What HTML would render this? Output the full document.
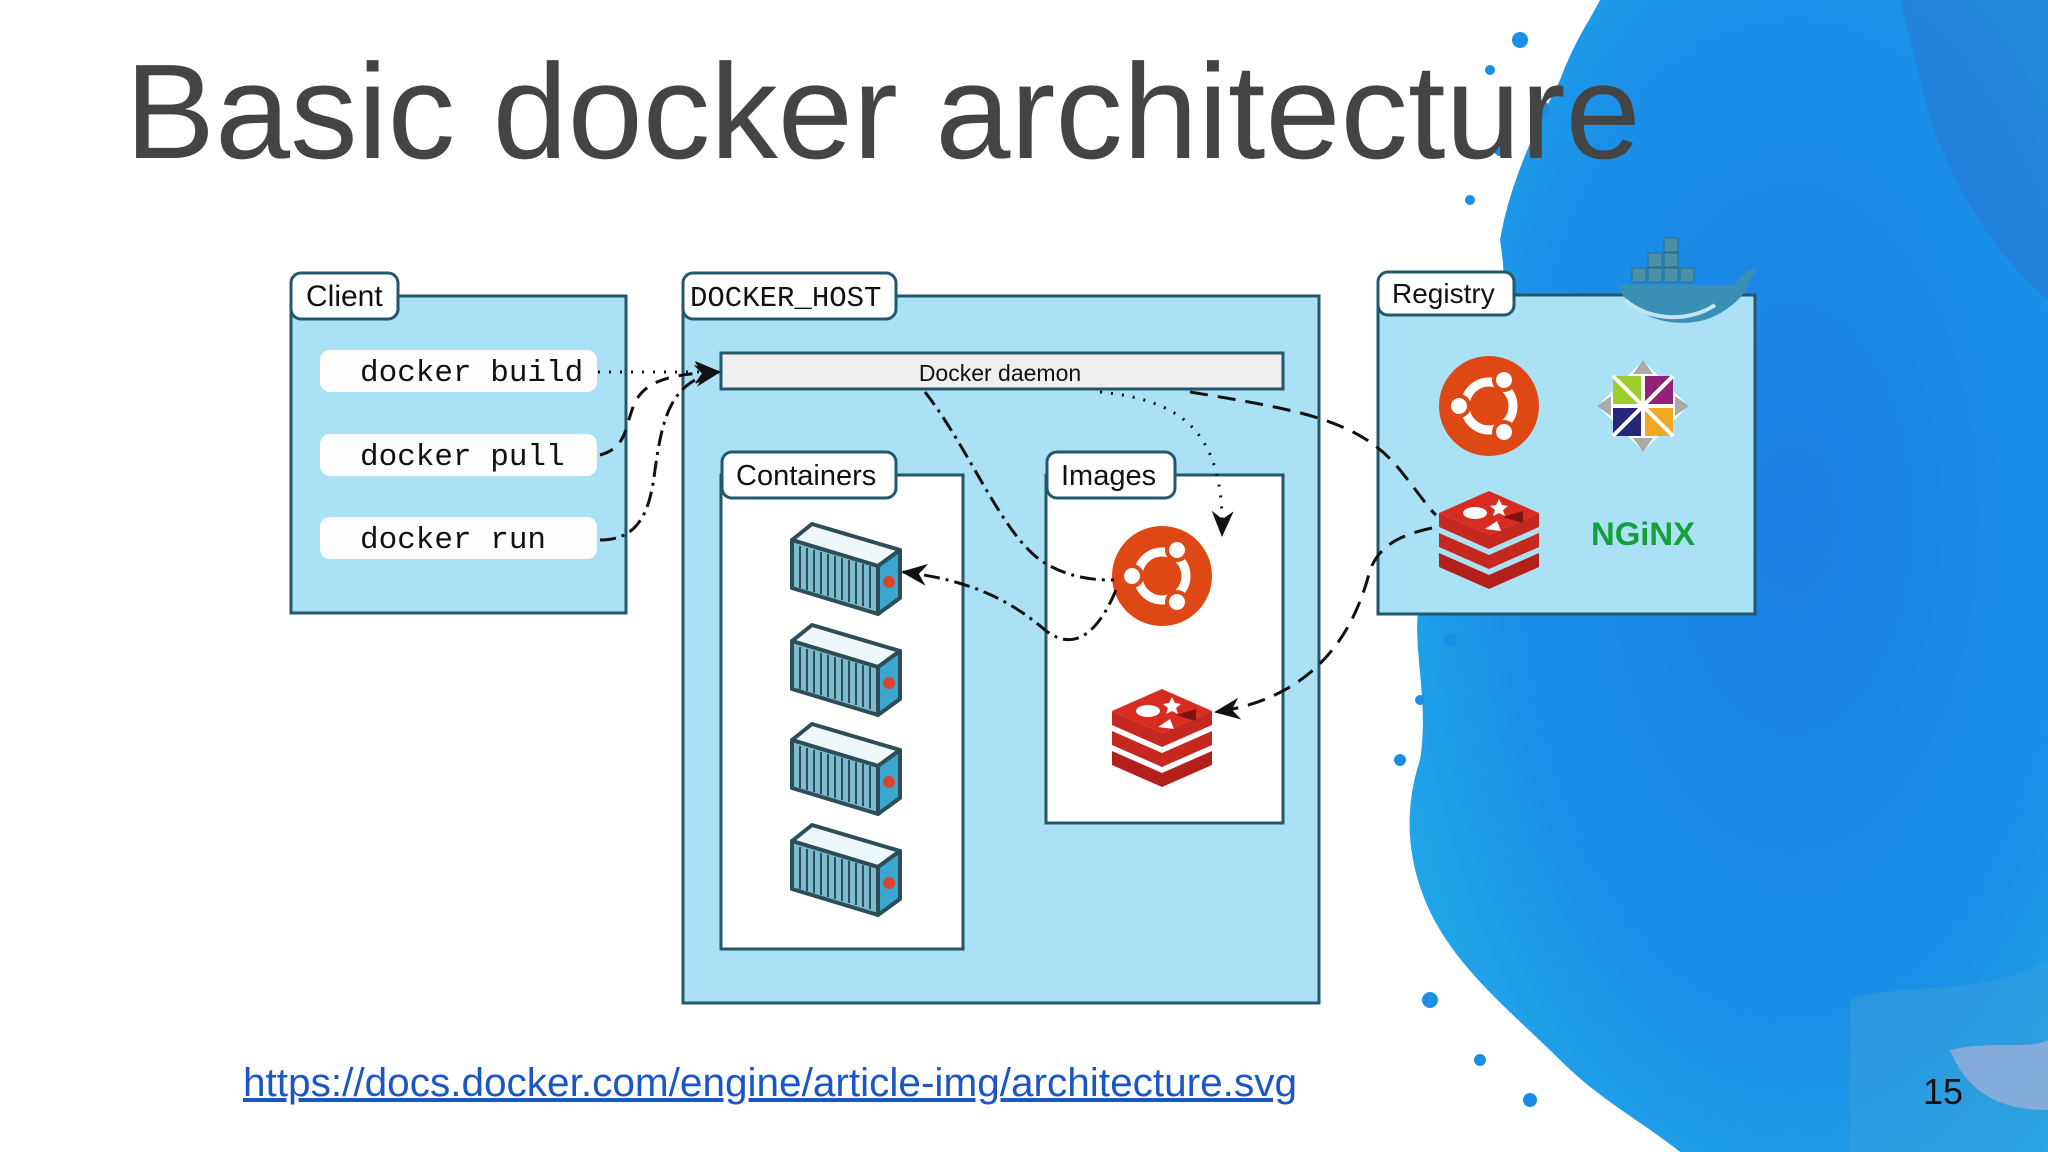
<!DOCTYPE html>
<html><head><meta charset="utf-8"><style>
html,body{margin:0;padding:0;background:#fff;}
body{width:2048px;height:1152px;overflow:hidden;position:relative;font-family:"Liberation Sans",sans-serif;}
svg{position:absolute;left:0;top:0;}
</style></head><body>
<svg width="2048" height="1152" viewBox="0 0 2048 1152" xmlns="http://www.w3.org/2000/svg">
<defs>
<radialGradient id="sp" cx="0.6" cy="0.45" r="0.7">
<stop offset="0" stop-color="#1a7fe2"/><stop offset="0.6" stop-color="#1a8ee8"/><stop offset="1" stop-color="#22a8e8"/>
</radialGradient>
<marker id="ah" markerWidth="26" markerHeight="22" refX="24" refY="11" orient="auto" markerUnits="userSpaceOnUse">
<path d="M0,0 L26,11 L0,22 L8,11 Z" fill="#111"/></marker>
<g id="cont">
<polygon points="2,18 22,2 110,28 88,44" fill="#eef7fa" stroke="#2d4d57" stroke-width="4" stroke-linejoin="round"/>
<polygon points="2,18 88,44 88,92 2,66" fill="#7dbccf" stroke="#2d4d57" stroke-width="4" stroke-linejoin="round"/>
<polygon points="88,44 110,28 110,76 88,92" fill="#3ba6cf" stroke="#2d4d57" stroke-width="4" stroke-linejoin="round"/>
<g stroke="#2d4d57" stroke-width="2">
<line x1="10" y1="24" x2="10" y2="66"/><line x1="17" y1="26" x2="17" y2="68"/><line x1="24" y1="28" x2="24" y2="70"/><line x1="31" y1="30" x2="31" y2="72"/><line x1="38" y1="32" x2="38" y2="74"/><line x1="45" y1="34" x2="45" y2="76"/><line x1="52" y1="36" x2="52" y2="78"/><line x1="59" y1="38" x2="59" y2="80"/><line x1="66" y1="40" x2="66" y2="82"/><line x1="73" y1="42" x2="73" y2="84"/><line x1="80" y1="44" x2="80" y2="86"/>
</g>
<circle cx="99" cy="60" r="6" fill="#d9432b"/>
</g>
<g id="ubu">
<circle r="50" fill="#dd4814"/>
<circle r="24" fill="none" stroke="#fff" stroke-width="9"/>
<circle cx="-30" cy="0" r="10" fill="#fff" stroke="#dd4814" stroke-width="4"/>
<circle cx="15" cy="-26" r="10" fill="#fff" stroke="#dd4814" stroke-width="4"/>
<circle cx="15" cy="26" r="10" fill="#fff" stroke="#dd4814" stroke-width="4"/>
</g>
<g id="redis">
<path d="M-50,20 L0,42 L50,20 L50,34 L0,56 L-50,34 Z" fill="#b3201b"/>
<path d="M-50,0 L0,22 L50,0 L50,14 L0,36 L-50,14 Z" fill="#c4281f"/>
<path d="M-50,-20 L0,2 L50,-20 L50,-6 L0,16 L-50,-6 Z" fill="#c4281f"/>
<path d="M-50,-20 L0,-42 L50,-20 L0,2 Z" fill="#d82c20"/>
<ellipse cx="-14" cy="-20" rx="12" ry="6" fill="#fff"/>
<path d="M10,-34 l3,6 6,1 -5,4 2,6 -6,-3 -6,3 2,-6 -5,-4 6,-1z" fill="#fff"/>
<path d="M14,-16 L34,-22 L34,-10 Z" fill="#7a1512"/>
<path d="M-4,-4 L8,-12 L12,-2 Z" fill="#fff"/>
</g>
</defs>

<!-- splash -->
<path d="M1600,0 L2048,0 L2048,1152 L1680,1152 C1640,1120 1600,1100 1560,1060 C1520,1020 1470,980 1440,930 C1410,880 1400,820 1420,760 C1430,700 1410,640 1420,600 C1430,540 1450,480 1480,420 C1500,360 1510,300 1500,240 C1510,180 1540,120 1560,80 C1575,40 1590,20 1600,0 Z" fill="url(#sp)"/>
<path d="M1900,0 L2048,0 L2048,300 C2000,260 1960,200 1930,120 Z" fill="#2a6fc9" opacity="0.4"/>
<path d="M1850,1000 C1900,980 1980,1000 2048,960 L2048,1152 L1850,1152 Z" fill="#3aa0d8" opacity="0.5"/>
<path d="M1950,1050 C1990,1040 2030,1050 2048,1040 L2048,1110 C2010,1110 1970,1100 1950,1050Z" fill="#d9b8d6" opacity="0.5"/>
<g fill="#1b8fe6">
<circle cx="1520" cy="40" r="8"/><circle cx="1490" cy="70" r="5"/><circle cx="1540" cy="110" r="10"/><circle cx="1500" cy="150" r="6"/><circle cx="1470" cy="200" r="5"/><circle cx="1450" cy="640" r="7"/><circle cx="1420" cy="700" r="5"/><circle cx="1400" cy="760" r="6"/><circle cx="1430" cy="1000" r="8"/><circle cx="1480" cy="1060" r="6"/><circle cx="1530" cy="1100" r="7"/>
</g>

<!-- title -->
<text x="125" y="158" font-family="'Liberation Sans',sans-serif" font-size="135" fill="#444">Basic docker architecture</text>

<!-- Client -->
<rect x="291" y="296" width="335" height="317" fill="#abe1f5" stroke="#23586a" stroke-width="3"/>
<rect x="291" y="273" width="107" height="46" rx="10" fill="#fff" stroke="#23586a" stroke-width="3"/>
<text x="306" y="306" font-size="30" fill="#111">Client</text>
<g font-family="'Liberation Mono',monospace" font-size="31" fill="#111">
<rect x="320" y="350" width="277" height="42" rx="10" fill="#fdfdfd"/><text x="360" y="381">docker build</text>
<rect x="320" y="434" width="277" height="42" rx="10" fill="#fdfdfd"/><text x="360" y="465">docker pull</text>
<rect x="320" y="517" width="277" height="42" rx="10" fill="#fdfdfd"/><text x="360" y="548">docker run</text>
</g>

<!-- Docker host -->
<rect x="683" y="296" width="636" height="707" fill="#abe1f5" stroke="#23586a" stroke-width="3"/>
<rect x="683" y="273" width="213" height="46" rx="10" fill="#fff" stroke="#23586a" stroke-width="3"/>
<text x="690" y="306" font-family="'Liberation Mono',monospace" font-size="29" fill="#111">DOCKER_HOST</text>
<rect x="721" y="353" width="562" height="36" fill="#efefef" stroke="#23586a" stroke-width="3"/>
<text x="1000" y="381" font-size="23" fill="#111" text-anchor="middle">Docker daemon</text>

<rect x="721" y="475" width="242" height="474" fill="#fff" stroke="#23586a" stroke-width="3"/>
<rect x="722" y="452" width="174" height="46" rx="10" fill="#fff" stroke="#23586a" stroke-width="3"/>
<text x="736" y="485" font-size="29" fill="#111">Containers</text>
<rect x="1046" y="475" width="237" height="348" fill="#fff" stroke="#23586a" stroke-width="3"/>
<rect x="1047" y="452" width="128" height="46" rx="10" fill="#fff" stroke="#23586a" stroke-width="3"/>
<text x="1061" y="485" font-size="29" fill="#111">Images</text>

<use href="#cont" x="790" y="522"/>
<use href="#cont" x="790" y="623"/>
<use href="#cont" x="790" y="722"/>
<use href="#cont" x="790" y="823"/>
<use href="#ubu" x="1162" y="576"/>
<use href="#redis" x="1162" y="731"/>

<!-- Registry -->
<rect x="1378" y="295" width="377" height="319" fill="#abe1f5" stroke="#23586a" stroke-width="3"/>
<rect x="1378" y="272" width="136" height="43" rx="10" fill="#fff" stroke="#23586a" stroke-width="3"/>
<text x="1392" y="303" font-size="28" fill="#111">Registry</text>
<g>
<path d="M1618,285 C1630,320 1680,330 1710,318 C1730,310 1745,295 1748,285 Z" fill="#3a8fb5"/>
<path d="M1625,300 C1650,322 1690,322 1715,305" fill="none" stroke="#bfe5f2" stroke-width="4"/>
<path d="M1735,285 C1742,272 1750,268 1758,270 C1752,276 1748,282 1746,286 Z" fill="#3a8fb5"/>
<g fill="#4b8fa8" stroke="#2a6f8a" stroke-width="1">
<rect x="1632" y="268" width="14" height="14"/><rect x="1648" y="268" width="14" height="14"/><rect x="1664" y="268" width="14" height="14"/><rect x="1680" y="268" width="14" height="14"/><rect x="1648" y="253" width="14" height="14"/><rect x="1664" y="253" width="14" height="14"/><rect x="1664" y="238" width="14" height="14"/>
</g>
</g>
<use href="#ubu" x="1489" y="406"/>
<use href="#redis" x="1489" y="533"/>
<g transform="translate(1643,406)">
<rect x="-32" y="-32" width="64" height="64" fill="#fff" transform="rotate(45)"/>
<rect x="-30" y="-30" width="28" height="28" fill="#9ccd2a"/>
<rect x="2" y="-30" width="28" height="28" fill="#932279"/>
<rect x="-30" y="2" width="28" height="28" fill="#262577"/>
<rect x="2" y="2" width="28" height="28" fill="#efa724"/>
<path d="M0,-46 L10,-32 L-10,-32Z M46,0 L32,10 L32,-10Z M0,46 L10,32 L-10,32Z M-46,0 L-32,10 L-32,-10Z" fill="#aaa"/>
<path d="M-30,-30 L30,30 M30,-30 L-30,30" stroke="#fff" stroke-width="4"/>
</g>
<text x="1643" y="545" font-size="32" font-weight="bold" fill="#139f3a" text-anchor="middle" font-family="'Liberation Sans',sans-serif" textLength="104" lengthAdjust="spacingAndGlyphs">NGiNX</text>

<!-- connectors -->
<g fill="none" stroke="#111" stroke-width="3">
<path d="M598,372 L719,372" stroke-dasharray="2,9" marker-end="url(#ah)"/>
<path d="M600,455 C625,448 625,430 632,410 C640,385 660,374 719,372" stroke-dasharray="14,10" marker-end="url(#ah)"/>
<path d="M600,540 C640,540 650,510 655,470 C662,420 670,380 719,372" stroke-dasharray="16,6,3,6" marker-end="url(#ah)"/>
<path d="M1100,392 C1180,400 1225,430 1222,535" stroke-dasharray="2,9" marker-end="url(#ah)"/>
<path d="M925,392 C970,450 1000,530 1040,560 C1070,580 1100,580 1114,580" stroke-dasharray="16,6,3,6"/>
<path d="M1116,590 C1095,640 1070,650 1045,630 C1010,600 970,580 903,572" stroke-dasharray="16,6,3,6" marker-end="url(#ah)"/>
<path d="M1190,392 C1300,410 1360,420 1400,470 C1420,495 1430,510 1436,515" stroke-dasharray="18,10"/>
<path d="M1432,528 C1400,535 1380,545 1370,570 C1350,650 1300,700 1216,712" stroke-dasharray="18,10" marker-end="url(#ah)"/>
</g>

<!-- link -->
<text x="243" y="1096" font-size="40" fill="#1a56c8" text-decoration="underline" textLength="1054" lengthAdjust="spacingAndGlyphs">https://docs.docker.com/engine/article-img/architecture.svg</text>
<text x="1923" y="1104" font-size="36" fill="#111">15</text>
</svg>
</body></html>
